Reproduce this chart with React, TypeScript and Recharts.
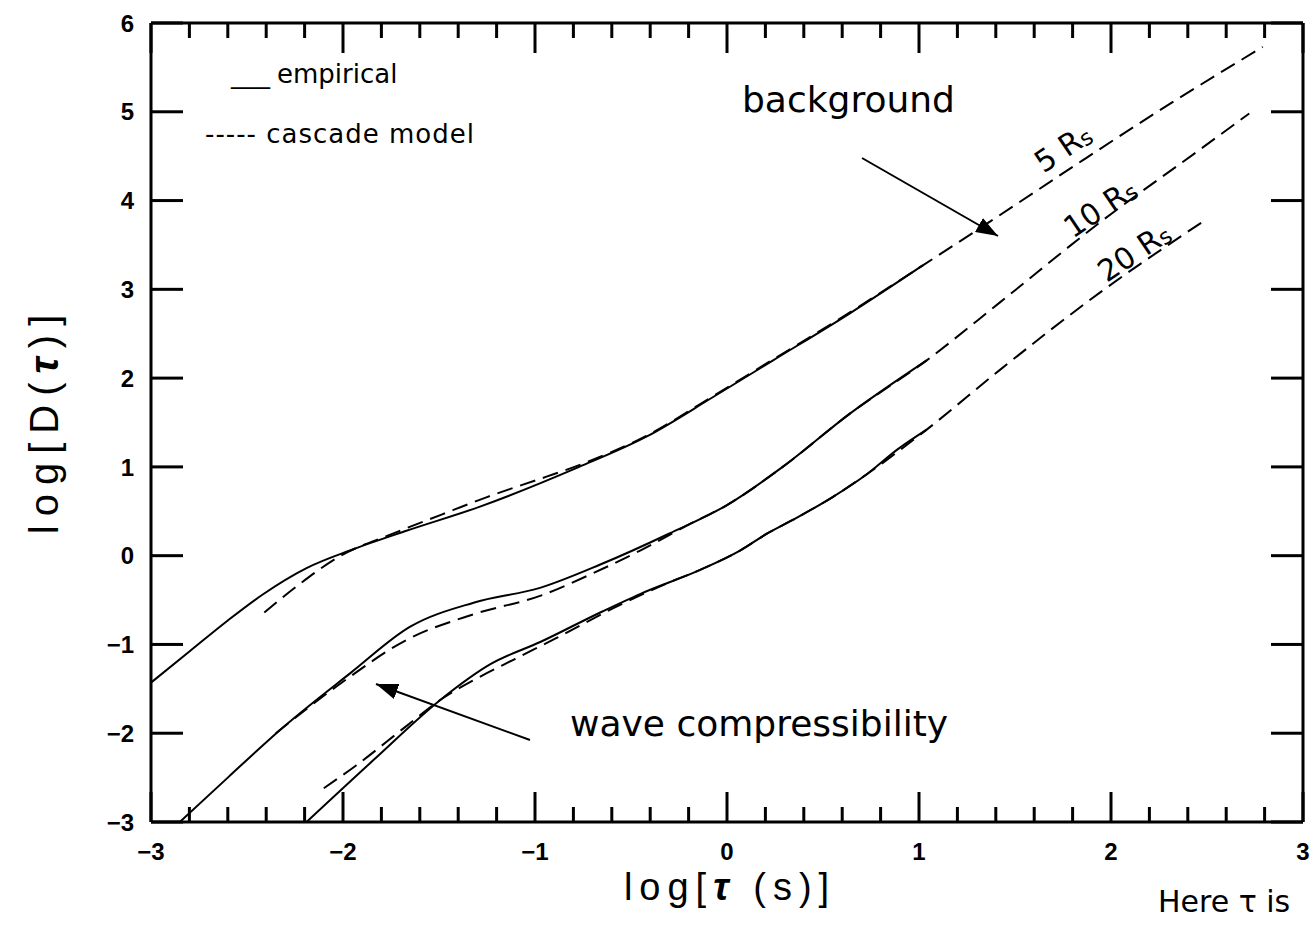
import { LineChart, Line, XAxis, YAxis } from 'recharts'

// log tau (x) vs log D(tau) (y)
const empirical5: [number, number][] = [
  [-3.0, -1.43], [-2.8, -1.08], [-2.6, -0.73], [-2.42, -0.44], [-2.19, -0.14],
  [-1.95, 0.07], [-1.67, 0.28], [-1.29, 0.55], [-0.77, 1.0], [-0.42, 1.34],
  [-0.07, 1.79], [0.24, 2.2], [0.64, 2.73], [1.02, 3.27],
]
const cascade5: [number, number][] = [
  [-2.41, -0.64], [-2.22, -0.31], [-2.02, -0.01], [-1.75, 0.24], [-1.49, 0.46],
  [-1.25, 0.66], [-0.94, 0.89], [-0.77, 1.02], [-0.42, 1.35], [-0.07, 1.8],
  [0.24, 2.21], [0.64, 2.74], [1.02, 3.27], [1.41, 3.82], [1.85, 4.45],
  [2.3, 5.08], [2.79, 5.73],
]
const empirical10: [number, number][] = [
  [-2.85, -3.0], [-2.6, -2.5], [-2.31, -1.93], [-1.96, -1.32], [-1.65, -0.8],
  [-1.32, -0.53], [-0.97, -0.36], [-0.66, -0.1], [-0.3, 0.25], [0.0, 0.57],
  [0.29, 1.0], [0.64, 1.6], [1.04, 2.2],
]
const cascade10: [number, number][] = [
  [-2.35, -2.0], [-2.0, -1.42], [-1.67, -0.95], [-1.32, -0.66], [-0.97, -0.45],
  [-0.7, -0.2], [-0.45, 0.06], [-0.2, 0.35], [0.0, 0.57], [0.29, 1.0],
  [0.64, 1.6], [1.04, 2.2], [1.42, 2.85], [1.94, 3.75], [2.46, 4.57], [2.72, 4.98],
]
const empirical20: [number, number][] = [
  [-2.19, -3.0], [-1.84, -2.3], [-1.49, -1.62], [-1.23, -1.22], [-0.97, -0.97],
  [-0.66, -0.64], [-0.45, -0.43], [-0.14, -0.16], [0.07, 0.06], [0.21, 0.25],
  [0.34, 0.4], [0.55, 0.66], [0.73, 0.92], [0.89, 1.2], [1.04, 1.42],
]
const cascade20: [number, number][] = [
  [-2.1, -2.62], [-1.93, -2.36], [-1.67, -1.92], [-1.49, -1.62], [-1.3, -1.38],
  [-1.11, -1.17], [-0.89, -0.93], [-0.6, -0.6], [-0.3, -0.3], [-0.14, -0.16],
  [0.07, 0.06], [0.21, 0.25], [0.34, 0.4], [0.55, 0.66], [0.73, 0.92],
  [1.04, 1.42], [1.42, 2.09], [1.94, 2.96], [2.47, 3.75],
]

const xTicks = [
  -3, -2.8, -2.6, -2.4, -2.2, -2, -1.8, -1.6, -1.4, -1.2, -1, -0.8, -0.6, -0.4, -0.2,
  0, 0.2, 0.4, 0.6, 0.8, 1, 1.2, 1.4, 1.6, 1.8, 2, 2.2, 2.4, 2.6, 2.8, 3,
]
const yTicks = [-3, -2, -1, 0, 1, 2, 3, 4, 5, 6]

const series = [
  { key: 'emp5', pts: empirical5, dashed: false },
  { key: 'cas5', pts: cascade5, dashed: true },
  { key: 'emp10', pts: empirical10, dashed: false },
  { key: 'cas10', pts: cascade10, dashed: true },
  { key: 'emp20', pts: empirical20, dashed: false },
  { key: 'cas20', pts: cascade20, dashed: true },
]

const toPoints = (pts: [number, number][]) => pts.map(([x, y]) => ({ x, y }))
const fmt = (v: number) => (v < 0 ? '\u2212' + Math.abs(v) : String(v))
const isMajor = (v: number) => Math.abs(v - Math.round(v)) < 1e-6

const sans = "'Liberation Sans', Arial, sans-serif"
const tickFont = { fontFamily: sans, fontWeight: 'bold' as const, fontSize: 24 }

function BottomTick(props: any) {
  const { x, y, payload } = props
  const major = isMajor(payload.value)
  return (
    <g>
      <line x1={x} x2={x} y1={y} y2={y - (major ? 30 : 15)} stroke="#000" strokeWidth={3} />
      {major && (
        <text x={x} y={y + 38} textAnchor="middle" fill="#000" {...tickFont}>
          {fmt(payload.value)}
        </text>
      )}
    </g>
  )
}

function TopTick(props: any) {
  const { x, y, payload } = props
  const major = isMajor(payload.value)
  return <line x1={x} x2={x} y1={y} y2={y + (major ? 30 : 15)} stroke="#000" strokeWidth={3} />
}

function LeftTick(props: any) {
  const { x, y, payload } = props
  return (
    <g>
      <line x1={x} x2={x + 32} y1={y} y2={y} stroke="#000" strokeWidth={3} />
      <text x={x - 17} y={y} dy="0.36em" textAnchor="end" fill="#000" {...tickFont}>
        {fmt(payload.value)}
      </text>
    </g>
  )
}

function RightTick(props: any) {
  const { x, y } = props
  return <line x1={x} x2={x - 32} y1={y} y2={y} stroke="#000" strokeWidth={3} />
}

const annoFont = { fontFamily: 'DejaVu Sans', fill: '#000' }
const frame = { stroke: '#000', strokeWidth: 3 }

export default function App() {
  return (
    <div style={{ position: 'absolute', left: 0, top: 0, width: 1310, height: 931, background: '#fff' }}>
      <LineChart width={1310} height={931} margin={{ top: 22, right: 6, bottom: 108, left: 150 }}>
        <XAxis
          type="number"
          dataKey="x"
          domain={[-3, 3]}
          ticks={xTicks}
          interval={0}
          allowDataOverflow
          height={1}
          tickSize={0}
          tickMargin={0}
          tick={BottomTick}
          axisLine={frame}
        />
        <XAxis
          xAxisId="top"
          orientation="top"
          type="number"
          dataKey="x"
          domain={[-3, 3]}
          ticks={xTicks}
          interval={0}
          allowDataOverflow
          height={1}
          tickSize={0}
          tickMargin={0}
          tick={TopTick}
          axisLine={frame}
        />
        <YAxis
          type="number"
          domain={[-3, 6]}
          ticks={yTicks}
          interval={0}
          allowDataOverflow
          width={1}
          tickSize={0}
          tickMargin={0}
          tick={LeftTick}
          axisLine={frame}
        />
        <YAxis
          yAxisId="right"
          orientation="right"
          type="number"
          domain={[-3, 6]}
          ticks={yTicks}
          interval={0}
          allowDataOverflow
          width={1}
          tickSize={0}
          tickMargin={0}
          tick={RightTick}
          axisLine={frame}
        />
        {series.map((s) => (
          <Line
            key={s.key}
            data={toPoints(s.pts)}
            dataKey="y"
            type="monotone"
            stroke="#000"
            strokeWidth={2}
            strokeDasharray={s.dashed ? '16 8' : undefined}
            dot={false}
            activeDot={false}
            isAnimationActive={false}
          />
        ))}
      </LineChart>

      <svg
        width={1310}
        height={931}
        style={{ position: 'absolute', left: 0, top: 0, pointerEvents: 'none' }}
      >
        <defs>
          <marker
            id="head"
            markerUnits="userSpaceOnUse"
            markerWidth={22}
            markerHeight={16}
            refX={22}
            refY={8}
            orient="auto"
          >
            <path d="M0,0 L22,8 L0,16 z" fill="#000" />
          </marker>
        </defs>

        {/* legend */}
        <text x={231} y={83} fontSize={26} {...annoFont}>___</text>
        <text x={277} y={83} fontSize={26} {...annoFont}>empirical</text>
        <text x={205} y={143} fontSize={26} letterSpacing={1} {...annoFont}>----- cascade model</text>

        {/* annotations */}
        <text x={742} y={112} fontSize={36} {...annoFont}>background</text>
        <line x1={862} y1={158} x2={998} y2={236} stroke="#000" strokeWidth={2} markerEnd="url(#head)" />
        <text x={570} y={736} fontSize={36} {...annoFont}>wave compressibility</text>
        <line x1={530} y1={740} x2={376} y2={684} stroke="#000" strokeWidth={2} markerEnd="url(#head)" />
        <text x={1158} y={912} fontSize={30} {...annoFont}>Here τ is</text>

        {/* radius labels */}
        {[
          ['5 R', 1063, 148],
          ['10 R', 1100, 208],
          ['20 R', 1134, 252],
        ].map(([t, x, y]) => (
          <text
            key={t as string}
            transform={`translate(${x},${y}) rotate(-34)`}
            textAnchor="middle"
            dominantBaseline="central"
            fontSize={30}
            fontFamily="DejaVu Sans"
            fill="#000"
          >
            {t}
            <tspan fontSize={22} dy={4}>s</tspan>
          </text>
        ))}

        {/* axis titles */}
        <text
          x={730}
          y={900}
          textAnchor="middle"
          fontSize={38}
          letterSpacing={7}
          fontFamily={sans}
          fill="#000"
        >
          log[<tspan fontStyle="italic" fontWeight="bold">τ</tspan> (s)]
        </text>
        <text
          transform="translate(58,420) rotate(-90)"
          textAnchor="middle"
          fontSize={40}
          letterSpacing={9}
          fontFamily={sans}
          fill="#000"
        >
          log[D(<tspan fontStyle="italic" fontWeight="bold">τ</tspan>)]
        </text>
      </svg>
    </div>
  )
}
